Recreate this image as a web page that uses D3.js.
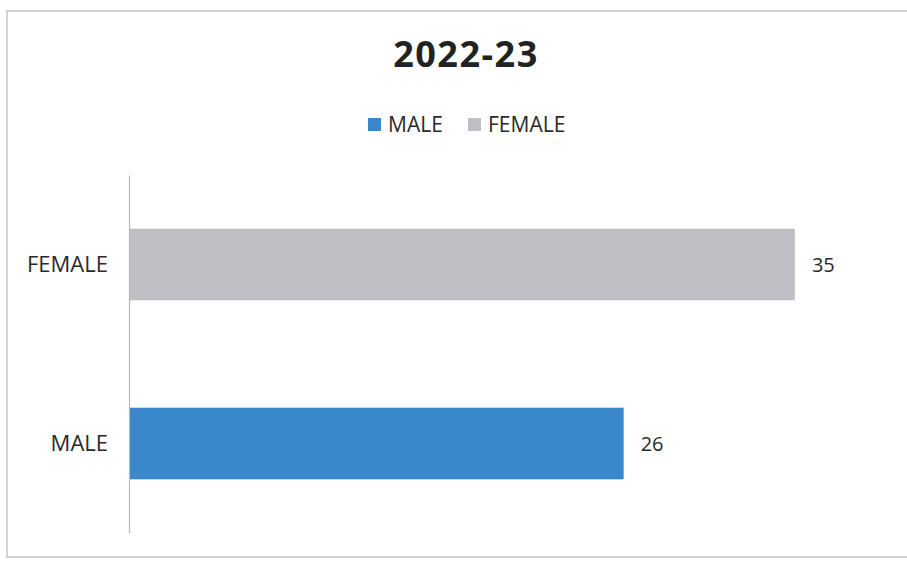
<!DOCTYPE html>
<html>
<head>
<meta charset="utf-8">
<script src="https://cdn.jsdelivr.net/npm/d3@7"></script>
<style>
  body { margin: 0; background: #fff; }
  text { font-family: "Open Sans", "Noto Sans", sans-serif; fill: #333; }
</style>
</head>
<body>
<svg id="chart" width="907" height="563"></svg>
<script>
// chart data
const title = "2022-23";
const categories = ["FEMALE", "MALE"];   // top to bottom
const values = [35, 26];
const seriesNames = ["MALE", "FEMALE"];  // legend order
const colors = { MALE: "#3a88cb", FEMALE: "#c1bfc6" };
const xMax = 40;

const svg = d3.select("#chart");

// outer chart frame
svg.append("rect")
  .attr("x", 7).attr("y", 11)
  .attr("width", 910).attr("height", 546)
  .attr("fill", "none")
  .attr("stroke", "#c4c4c4")
  .attr("stroke-width", 1.5);

const x = d3.scaleLinear().domain([0, xMax]).range([129, 890]);
const y = d3.scaleBand()
  .domain(categories)
  .range([175, 533])
  .paddingInner(0.6)
  .paddingOuter(0.3);

// title
svg.append("text")
  .attr("x", 466).attr("y", 67)
  .attr("text-anchor", "middle")
  .style("font-weight", "bold")
  .style("font-size", "36px")
  .style("letter-spacing", "1.5px")
  .style("fill", "#222")
  .text(title);

// legend
const legend = svg.append("g");
const legendX = { MALE: 368, FEMALE: 468 };
seriesNames.forEach((name) => {
  const g = legend.append("g").attr("transform", `translate(${legendX[name]},118)`);
  g.append("rect").attr("width", 13).attr("height", 13).attr("fill", colors[name]);
  g.append("text")
    .attr("x", 20).attr("y", 13.5)
    .style("font-size", "21px")
    .style("fill", "#2a2a2a")
    .text(name);
});

// bars
svg.selectAll(".bar")
  .data(categories)
  .join("rect")
  .attr("class", "bar")
  .attr("x", x(0))
  .attr("y", (d) => y(d))
  .attr("width", (d, i) => x(values[i]) - x(0))
  .attr("height", y.bandwidth())
  .attr("fill", (d) => colors[d]);

// value labels
svg.selectAll(".val")
  .data(categories)
  .join("text")
  .attr("class", "val")
  .attr("x", (d, i) => x(values[i]) + 17)
  .attr("y", (d) => y(d) + y.bandwidth() / 2)
  .attr("dy", "0.35em")
  .style("font-size", "20px")
  .style("fill", "#2a2a2a")
  .text((d, i) => values[i]);

// category axis
const yAxis = svg.append("g")
  .attr("transform", `translate(${x(0)},0)`)
  .call(d3.axisLeft(y).tickSize(0).tickPadding(21));
yAxis.select(".domain").attr("stroke", "#b8b8b8").attr("stroke-width", 1.2);
yAxis.selectAll(".tick text")
  .style("font-size", "22px")
  .style("font-family", "'Open Sans', sans-serif")
  .style("fill", "#2a2a2a");
</script>
</body>
</html>
